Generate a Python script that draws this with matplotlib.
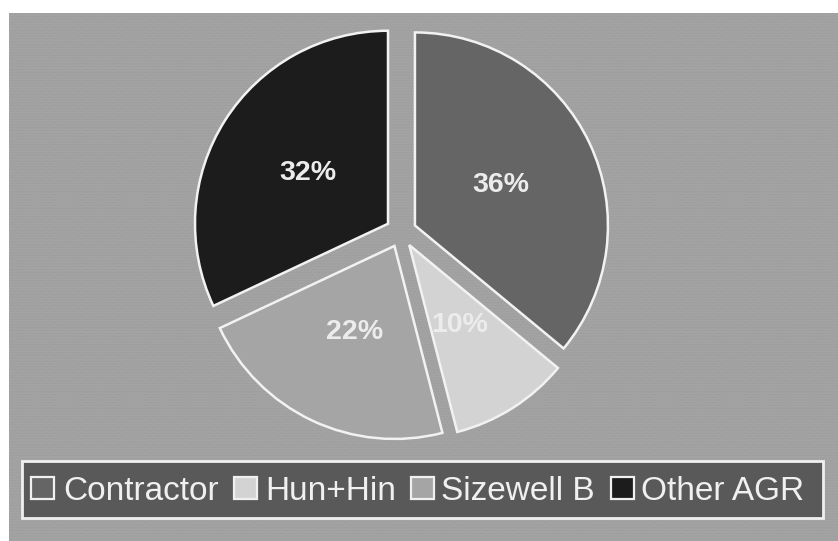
import matplotlib
matplotlib.use("Agg")
import matplotlib.pyplot as plt
from matplotlib.patches import Rectangle

# ---- data ----
labels = ["Contractor", "Hun+Hin", "Sizewell B", "Other AGR"]
values = [36, 10, 22, 32]
colors = ["#656565", "#d3d3d3", "#a5a5a5", "#1c1c1c"]

W, H = 838, 541
plt.rcParams['font.family'] = ['Liberation Sans', 'DejaVu Sans']
plt.rcParams['hatch.linewidth'] = 0.4

fig = plt.figure(figsize=(W / 100, H / 100), dpi=100, facecolor="white")
ax = fig.add_axes([0, 0, 1, 1])
ax.set_axis_off()

# grey textured panel
ax.add_patch(Rectangle((9, 0), W - 9, H - 13, facecolor="#a3a3a3",
                       edgecolor="#999999", hatch="......", linewidth=0, zorder=0))

cx, cy, r = 401, H - 232, 193
wedges, texts, autotexts = ax.pie(
    values, colors=colors, startangle=90, counterclock=False,
    explode=[15.4] * len(values), radius=r, center=(cx, cy),
    autopct=lambda p: f"{p:.0f}%", pctdistance=0.49, frame=True,
    wedgeprops=dict(edgecolor="#f2f2f2", linewidth=1.8),
    textprops=dict(color="#ececec", fontsize=20.5, fontweight="bold"))
for w in wedges:
    w.set_zorder(2)
for t in autotexts:
    t.set_zorder(3)

ax.set_xlim(0, W)
ax.set_ylim(0, H)
ax.set_aspect("auto")
ax.set_axis_off()

# legend box
ax.add_patch(Rectangle((22, H - 518), 801, 57, facecolor="#595959",
                       edgecolor="#f0f0f0", linewidth=2, zorder=4))
marker_x = [31, 234, 411, 611]
text_x = [63, 265, 441, 641]
ymid = H - 488
for mx, tx, lab, col in zip(marker_x, text_x, labels, colors):
    ax.add_patch(Rectangle((mx, ymid - 11), 23, 22, facecolor=col,
                           edgecolor="#f0f0f0", linewidth=1.6, zorder=5))
    ax.text(tx, ymid, lab, color="#f0f0f0", fontsize=24, va="center_baseline",
            ha="left", zorder=6)

fig.savefig("out.png", dpi=100, facecolor="white")
